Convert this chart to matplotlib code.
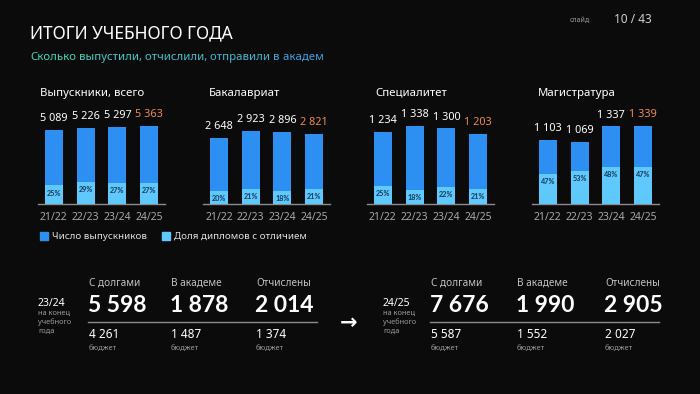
"""
Slide: academic year results (graduates, debts, academic leave, expulsions)
"""

import matplotlib

matplotlib.use("Agg")
import matplotlib.pyplot as plt
from matplotlib.patches import Rectangle
from matplotlib.colors import to_hex, LinearSegmentedColormap

plt.rcParams["font.family"] = ["Noto Sans", "DejaVu Sans"]

# Data
years = ["21/22", "22/23", "23/24", "24/25"]
panel_titles = ["Выпускники, всего", "Бакалавриат", "Специалитет", "Магистратура"]
graduates_total = [5089, 5226, 5297, 5363]
honors_total = [25, 29, 27, 27]
graduates_bachelor = [2648, 2923, 2896, 2821]
honors_bachelor = [20, 21, 18, 21]
graduates_specialist = [1234, 1338, 1300, 1203]
honors_specialist = [25, 18, 22, 21]
graduates_master = [1103, 1069, 1337, 1339]
honors_master = [47, 53, 48, 47]

legend_labels = ["Число выпускников", "Доля дипломов с отличием"]

status_labels = ["С долгами", "В академе", "Отчислены"]
status_2324 = [5598, 1878, 2014]
budget_2324 = [4261, 1487, 1374]
status_2425 = [7676, 1990, 2905]
budget_2425 = [5587, 1552, 2027]

# Style
BG = "#0b0b0b"
DARK_BLUE = "#2e8ff3"
LIGHT_BLUE = "#5fc8fd"
ORANGE = "#ef8a4e"
GRAY = "#a8a8a8"
BOLD_FONT = ["Lato", "DejaVu Sans"]
W, H = 700, 394


def fmt(v):
    return f"{v:,}".replace(",", " ")


fig = plt.figure(figsize=(7.0, 3.94), dpi=100, facecolor=BG)

# background axes in pixel coordinates for free text
bg = fig.add_axes([0, 0, 1, 1])
bg.set_xlim(0, W)
bg.set_ylim(H, 0)
bg.axis("off")
bg.set_facecolor(BG)

# header
bg.text(30, 33, "ИТОГИ УЧЕБНОГО ГОДА", color="white", fontsize=12.5,
        va="center", ha="left")
sub_words = "Сколько выпустили, отчислили, отправили в академ".split(" ")
grad = LinearSegmentedColormap.from_list("sub", ["#3ed8bd", "#39a2e2"])
prev = bg.text(30, 57, sub_words[0], color=to_hex(grad(0.0)), fontsize=8.2,
               va="center", ha="left")
for k, word in enumerate(sub_words[1:], start=1):
    prev = bg.annotate(" " + word, xy=(1, 0), xycoords=prev, va="bottom",
                       ha="left", fontsize=8.2,
                       color=to_hex(grad(k / (len(sub_words) - 1))))
bg.text(570, 20, "слайд", color="#9a9a9a", fontsize=5, va="center", ha="left")
bg.text(614, 19, "10 / 43", color="#cfcfcf", fontsize=8.5, va="center", ha="left")

# bar panels
panels = [
    (graduates_total, honors_total),
    (graduates_bachelor, honors_bachelor),
    (graduates_specialist, honors_specialist),
    (graduates_master, honors_master),
]
panel_left = [38, 203, 367, 532]
title_x = [40, 209, 375, 538]
peak_px = [78, 73, 78, 78]
ax_top, ax_bottom, ax_w = 100, 204, 127

for idx, (vals, pcts) in enumerate(panels):
    ax = fig.add_axes([panel_left[idx] / W, 1 - ax_bottom / H,
                       ax_w / W, (ax_bottom - ax_top) / H])
    ax.set_facecolor("none")
    x = list(range(len(years)))
    honors_vals = [v * p / 100 for v, p in zip(vals, pcts)]
    ax.bar(x, vals, width=0.57, color=DARK_BLUE, zorder=2)
    ax.bar(x, honors_vals, width=0.57, color=LIGHT_BLUE, zorder=3)
    ax.set_xlim(-0.5, 3.5)
    ax.set_ylim(0, max(vals) / peak_px[idx] * (ax_bottom - ax_top))
    for i, v in enumerate(vals):
        ax.annotate(fmt(v), xy=(i, v), xytext=(0, 8), textcoords="offset points",
                    ha="center", va="center", fontsize=7.8, clip_on=False,
                    color=ORANGE if i == len(vals) - 1 else "white")
        ax.annotate(f"{pcts[i]}%", xy=(i, honors_vals[i]), xytext=(0, -5.5),
                    textcoords="offset points", ha="center", va="center",
                    fontsize=5.2, color="#173a5e", zorder=4,
                    family=BOLD_FONT, fontweight="bold")
    for s in ["top", "left", "right"]:
        ax.spines[s].set_visible(False)
    ax.spines["bottom"].set_color("#8c8c8c")
    ax.spines["bottom"].set_linewidth(1)
    ax.set_yticks([])
    ax.set_xticks(x)
    ax.set_xticklabels(years)
    ax.tick_params(axis="x", length=0, pad=6, labelsize=7.5, labelcolor=GRAY)
    bg.text(title_x[idx], 93, panel_titles[idx], color="white", fontsize=8.2,
            va="center", ha="left")

# legend
for lx, col, label in [(40, DARK_BLUE, legend_labels[0]),
                       (162, LIGHT_BLUE, legend_labels[1])]:
    bg.add_patch(Rectangle((lx, 232), 8, 8, color=col))
    bg.text(lx + 12, 236.5, label, color="#e0e0e0", fontsize=7, va="center",
            ha="left")


# bottom summary blocks
def summary_block(year_x, col_x, line_span, year, totals, budgets):
    bg.text(year_x, 303, year, color="white", fontsize=7.5, va="center", ha="left")
    for j, t in enumerate(["на конец", "учебного", "года"]):
        bg.text(year_x, 313.5 + j * 9, t, color="#9a9a9a", fontsize=5.3,
                va="center", ha="left")
    bg.plot(line_span, [322, 322], color="#8c8c8c", lw=1)
    for j, cx in enumerate(col_x):
        bg.text(cx, 283, status_labels[j], color="#c4c4c4", fontsize=7.2,
                va="center", ha="left")
        bg.text(cx - 1, 305, fmt(totals[j]), color="white", fontsize=16.5,
                fontweight="bold", family=BOLD_FONT, va="center", ha="left")
        bg.text(cx, 335, fmt(budgets[j]), color="white", fontsize=8.5,
                va="center", ha="left")
        bg.text(cx, 348, "бюджет", color="#9a9a9a", fontsize=5.3,
                va="center", ha="left")


summary_block(38, [89, 171, 256], [88, 317], "23/24", status_2324, budget_2324)
summary_block(383, [431, 517, 605], [430, 659], "24/25", status_2425, budget_2425)
bg.text(349, 323, "→", color="white", fontsize=15, fontweight="bold",
        family=["DejaVu Sans"], va="center", ha="center")

fig.savefig("out.png", dpi=100, facecolor=BG)
